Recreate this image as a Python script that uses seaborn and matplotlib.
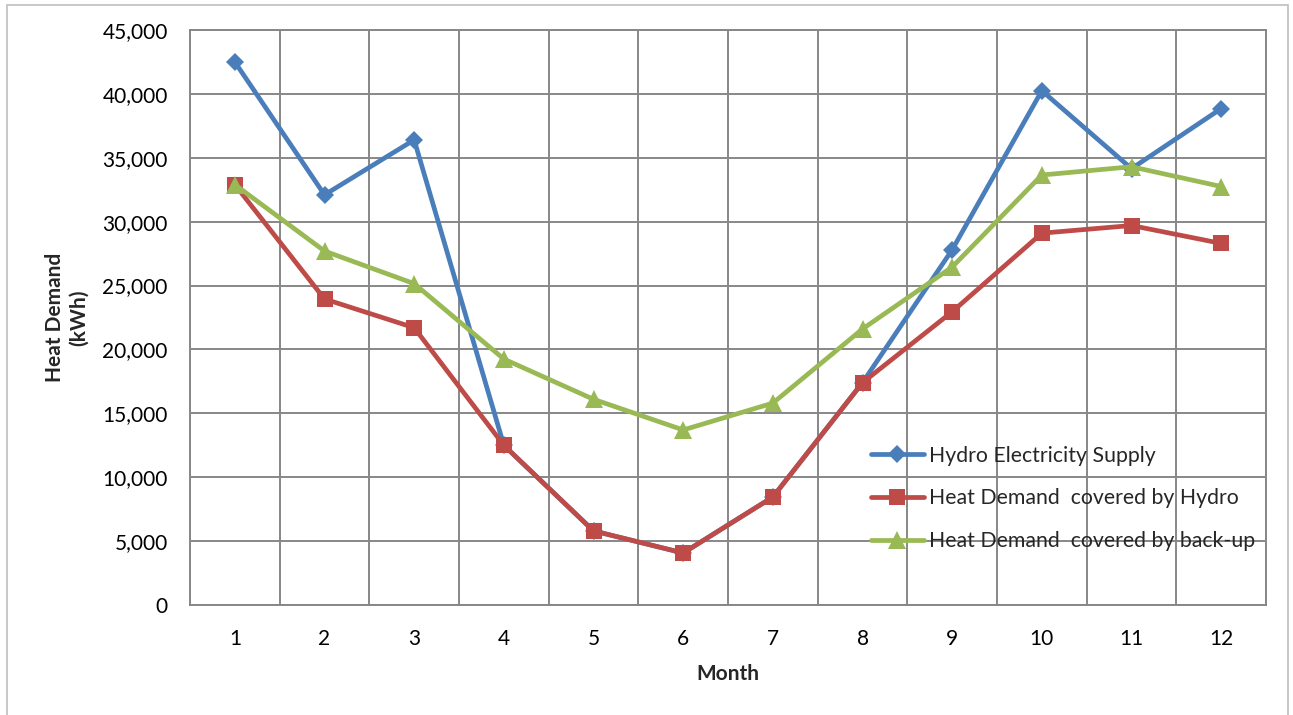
import matplotlib
matplotlib.use("Agg")
import matplotlib.pyplot as plt
import seaborn as sns
import pandas as pd
import numpy as np
from matplotlib.patches import Rectangle
from matplotlib.ticker import FuncFormatter, MultipleLocator, FixedLocator

months = list(range(1, 13))
hydro_supply = [42500, 32100, 36400, 12500, 5800, 4070, 8450, 17400, 27800, 40250, 34150, 38850]
covered_hydro = [32900, 23950, 21700, 12500, 5800, 4070, 8450, 17400, 22950, 29100, 29700, 28300]
covered_backup = [32900, 27700, 25150, 19250, 16100, 13700, 15800, 21600, 26450, 33650, 34300, 32750]

series_names = ["Hydro Electricity Supply", "Heat Demand  covered by Hydro", "Heat Demand  covered by back-up"]
colors = ["#4A7EBB", "#BE4B48", "#98B954"]
markers = ["D", "s", "^"]
msizes = [9.5, 11.5, 12.5]

sns.set_theme(style="white")
plt.rcParams['font.family'] = ['Lato', 'DejaVu Sans']

fig = plt.figure(figsize=(12.93, 7.15), dpi=100)
ax = fig.add_axes([190/1293, 1-605/715, (1266-190)/1293, (605-30)/715])

df = pd.DataFrame({"Month": months, "s0": hydro_supply, "s1": covered_hydro, "s2": covered_backup})
for i, col in enumerate(["s0", "s1", "s2"]):
    sns.lineplot(data=df, x="Month", y=col, ax=ax, color=colors[i], linewidth=3.4,
                 marker=markers[i], markersize=msizes[i], markeredgewidth=0,
                 label=series_names[i], zorder=3 + i)

ax.set_xlim(0.5, 12.5)
ax.set_ylim(0, 45000)
ax.xaxis.set_major_locator(FixedLocator(months))
ax.xaxis.set_minor_locator(FixedLocator([m + 0.5 for m in range(0, 13)]))
ax.yaxis.set_major_locator(MultipleLocator(5000))
ax.yaxis.set_major_formatter(FuncFormatter(lambda v, p: f"{int(v):,}"))
ax.grid(False)
ax.grid(True, which="minor", axis="x", color="#878787", linewidth=1.4)
ax.grid(True, which="major", axis="y", color="#878787", linewidth=1.4)
ax.set_axisbelow(True)
ax.tick_params(axis="both", which="both", length=0, labelsize=15, colors="black")
ax.tick_params(axis="x", pad=17)
ax.tick_params(axis="y", pad=16)
for s in ax.spines.values():
    s.set_color("#878787")
    s.set_linewidth(1.4)

ax.set_xlabel("Month", fontsize=15, fontweight="bold", labelpad=11)
ax.set_ylabel("Heat Demand\n(kWh)", fontsize=15, fontweight="bold", labelpad=10, linespacing=1.25)

leg = ax.legend(loc="upper left", bbox_to_anchor=(862/1293, 1-437/715), bbox_transform=fig.transFigure,
                frameon=False, fontsize=15.3, labelspacing=1.08, handlelength=2.5, handletextpad=0.25,
                borderaxespad=0)

fig.patches.append(Rectangle((7/1293, -0.01), (1288-7)/1293, 1-5/715 + 0.01, transform=fig.transFigure,
                             fill=False, edgecolor="#BFBFBF", linewidth=1.2, zorder=-1))

fig.savefig("out.png", dpi=100, facecolor="white")
